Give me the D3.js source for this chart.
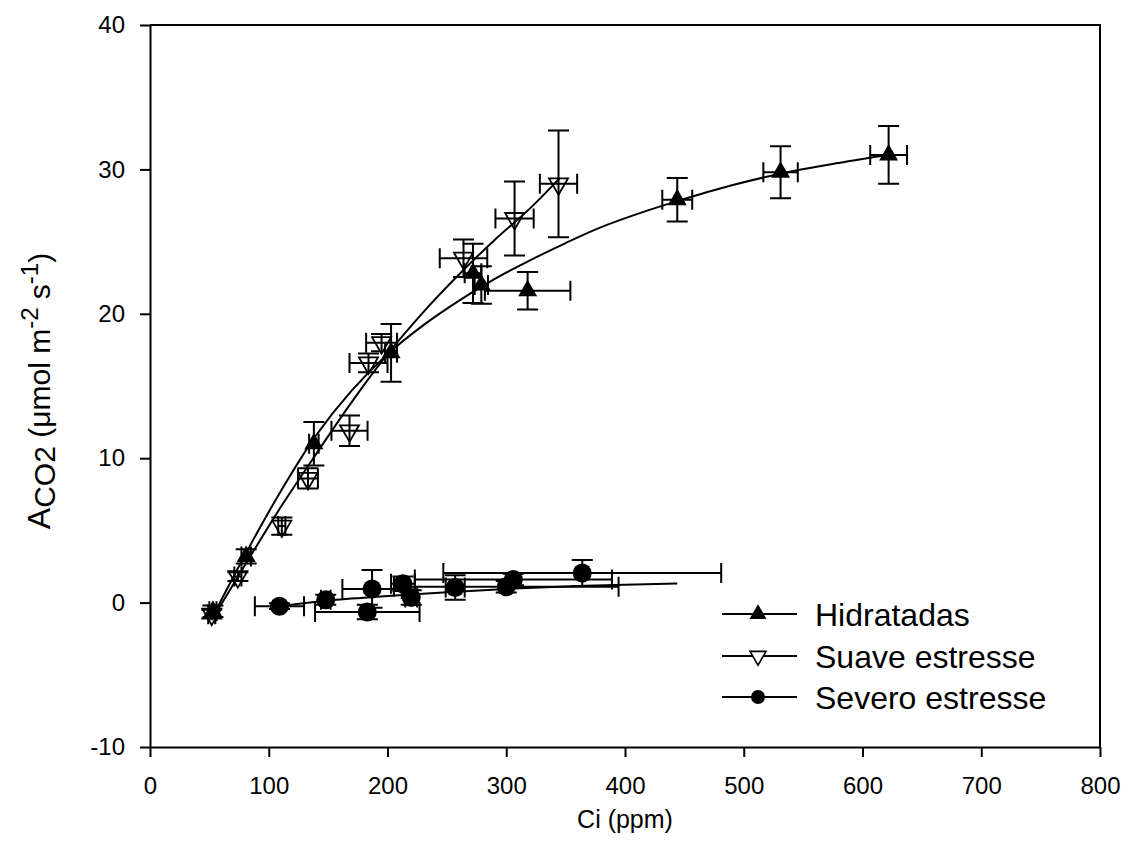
<!DOCTYPE html>
<html><head><meta charset="utf-8">
<script src="https://cdn.jsdelivr.net/npm/d3@7"></script>
<style>
body{margin:0;background:#fff}
svg{display:block}
text{font-family:"Liberation Sans",Arial,sans-serif;fill:#000}
</style>
</head><body>
<svg id="chart" width="1129" height="862"></svg>
<script>
// ---- tick labels ----
const xTicks = [0, 100, 200, 300, 400, 500, 600, 700, 800];
const yTicks = [-10, 0, 10, 20, 30, 40];

// ---- Hidratadas (filled triangles) ----
const hidCi    = [53, 81, 138, 203, 272, 279, 318, 444, 531, 622];
const hidA     = [-0.6, 3.2, 11.0, 17.3, 22.8, 22.0, 21.6, 27.9, 29.8, 31.0];
const hidCiErr = [3, 4, 4, 5, 7, 5.6, 36, 12.6, 14.5, 15.5];
const hidAErr  = [0.4, 0.5, 1.5, 2.0, 2.05, 1.3, 1.3, 1.5, 1.8, 2.0];

// ---- Suave estresse (open inverted triangles) ----
const suaCi    = [52, 74, 111, 133, 168, 184, 195, 264, 307, 344];
const suaA     = [-0.8, 1.8, 5.3, 8.6, 11.9, 16.6, 18.0, 23.85, 26.6, 29.0];
const suaCiErr = [3, 3, 3, 8.4, 15.2, 16, 13, 20, 16.1, 15.7];
const suaAErr  = [0.3, 0.3, 0.6, 0.7, 1.05, 0.65, 0.6, 1.3, 2.56, 3.7];

// ---- Severo estresse (filled circles) ----
const sevCi    = [109, 148, 183, 187, 213, 220, 257, 300, 306, 364];
const sevA     = [-0.25, 0.2, -0.65, 0.95, 1.3, 0.35, 1.05, 1.1, 1.6, 2.05];
const sevCiErr = [20.7, 4, 44, 25, 10, 5, 8, 94.6, 83, 117];
const sevAErr  = [0.2, 0.35, 0.5, 1.3, 0.5, 0.5, 0.85, 0.4, 0.4, 0.9];

// ---- fitted curves ----
const hidFitCi = [52, 80, 110, 140, 170, 200, 230, 260, 290, 320, 350, 380, 410, 444, 490, 531, 580, 621];
const hidFitA  = [-1.1, 3.3, 7.7, 11.6, 14.7, 17.2, 19.2, 20.9, 22.4, 23.7, 24.9, 26.0, 26.9, 27.8, 28.9, 29.7, 30.45, 31.0];
const suaFitCi = [52, 80, 110, 140, 170, 200, 230, 260, 290, 320, 345];
const suaFitA  = [-1.2, 2.6, 6.6, 10.3, 13.9, 17.2, 20.1, 22.7, 25.1, 27.3, 29.4];
const sevFitCi = [110, 150, 200, 250, 300, 350, 400, 444];
const sevFitA  = [-0.25, 0.15, 0.45, 0.72, 0.95, 1.12, 1.24, 1.32];

const seriesNames = ["Hidratadas", "Suave estresse", "Severo estresse"];

const svg = d3.select("#chart");
const L = 150, R = 1100, T = 25, B = 747;
const x = d3.scaleLinear().domain([0, 800]).range([L, R]);
const y = d3.scaleLinear().domain([-10, 40]).range([B, T]);

// axes
const gx = svg.append("g").attr("transform", `translate(0,${B})`)
  .call(d3.axisBottom(x).tickValues(xTicks).tickSize(10).tickSizeOuter(0).tickPadding(20));
const gy = svg.append("g").attr("transform", `translate(${L},0)`)
  .call(d3.axisLeft(y).tickValues(yTicks).tickSize(10).tickSizeOuter(0).tickPadding(15)
        .tickFormat(d => String(d).replace("\u2212", "-")));
[gx, gy].forEach(g => {
  g.selectAll("path,line").attr("stroke", "#000").attr("stroke-width", 2);
  g.selectAll("text").attr("font-size", 24).attr("font-family", "Liberation Sans, Arial, sans-serif");
});
// frame (top / right)
svg.append("path")
  .attr("d", `M${L},${T}H${R}V${B}`)
  .attr("fill", "none").attr("stroke", "#000").attr("stroke-width", 2);

// axis titles
svg.append("text").attr("x", (L + R) / 2).attr("y", 828)
  .attr("text-anchor", "middle").attr("font-size", 25).text("Ci (ppm)");

const yt = svg.append("text")
  .attr("transform", "translate(50,391) rotate(-90)")
  .attr("text-anchor", "middle").attr("font-size", 30);
yt.append("tspan").attr("font-size", 32).text("A");
yt.append("tspan").attr("dy", 5).text("CO2");
yt.append("tspan").attr("dy", -5).text(" (\u03bcmol m");
yt.append("tspan").attr("font-size", 24).attr("dy", -12).text("-2");
yt.append("tspan").attr("dy", 12).text(" s");
yt.append("tspan").attr("font-size", 24).attr("dy", -12).text("-1");
yt.append("tspan").attr("dy", 12).text(")");

const line = d3.line().x(d => x(d[0])).y(d => y(d[1])).curve(d3.curveCatmullRom.alpha(0.5));

function rows(ci, a, ce, ae) { return ci.map((c, i) => ({ci: c, a: a[i], ce: ce[i], ae: ae[i]})); }
const hid = rows(hidCi, hidA, hidCiErr, hidAErr);
const sua = rows(suaCi, suaA, suaCiErr, suaAErr);
const sev = rows(sevCi, sevA, sevCiErr, sevAErr);

function triUp(cx, cy, s) {
  const h = s * Math.sqrt(3) / 2;
  return `M${cx},${cy - h*2/3}L${cx + s/2},${cy + h/3}L${cx - s/2},${cy + h/3}Z`;
}
function triDown(cx, cy, s) {
  const h = s * Math.sqrt(3) / 2;
  return `M${cx},${cy + h*2/3}L${cx + s/2},${cy - h/3}L${cx - s/2},${cy - h/3}Z`;
}

// markers
svg.append("g").selectAll("circle").data(sev).join("circle")
  .attr("cx", d => x(d.ci)).attr("cy", d => y(d.a)).attr("r", 9.5).attr("fill", "#000");
svg.append("g").selectAll("path").data(sua).join("path")
  .attr("d", d => triDown(x(d.ci), y(d.a), 19)).attr("fill", "none").attr("stroke", "#000").attr("stroke-width", 1.8);
svg.append("g").selectAll("path").data(hid).join("path")
  .attr("d", d => triUp(x(d.ci), y(d.a), 19)).attr("fill", "#000");

function errorBars(data) {
  const g = svg.append("g").attr("stroke", "#000").attr("stroke-width", 2).attr("fill", "none");
  data.forEach(d => {
    const cx = x(d.ci), cy = y(d.a);
    const y1 = y(d.a + d.ae), y2 = y(d.a - d.ae);
    const x1 = x(d.ci - d.ce), x2 = x(d.ci + d.ce);
    g.append("path").attr("d",
      `M${cx},${y1}V${y2}M${cx-10.5},${y1}H${cx+10.5}M${cx-10.5},${y2}H${cx+10.5}` +
      `M${x1},${cy}H${x2}M${x1},${cy-10}V${cy+10}M${x2},${cy-10}V${cy+10}`);
  });
}
errorBars(sev); errorBars(sua); errorBars(hid);

const curves = [
  [sevFitCi, sevFitA], [suaFitCi, suaFitA], [hidFitCi, hidFitA]
];
curves.forEach(([cs, as]) => {
  svg.append("path").datum(cs.map((c, i) => [c, as[i]]))
    .attr("d", line).attr("fill", "none").attr("stroke", "#000").attr("stroke-width", 2);
});

// legend
const legY = [614, 656, 697];
const lg = svg.append("g");
seriesNames.forEach((name, i) => {
  const ly = legY[i];
  lg.append("line").attr("x1", 722).attr("x2", 797).attr("y1", ly).attr("y2", ly)
    .attr("stroke", "#000").attr("stroke-width", 2);
  if (i === 0) lg.append("path").attr("d", triUp(758, ly, 17)).attr("fill", "#000");
  if (i === 1) lg.append("path").attr("d", triDown(758, ly, 16)).attr("fill", "#fff").attr("stroke", "#000").attr("stroke-width", 1.6);
  if (i === 2) lg.append("circle").attr("cx", 758).attr("cy", ly).attr("r", 7).attr("fill", "#000");
  lg.append("text").attr("x", 815).attr("y", ly + 12).attr("font-size", 32).text(name);
});
</script>
</body></html>
